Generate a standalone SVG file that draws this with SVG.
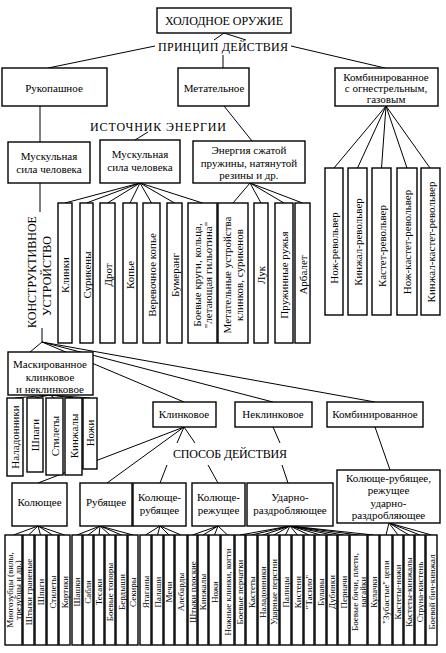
<svg xmlns="http://www.w3.org/2000/svg" width="446" height="653" viewBox="0 0 446 653">
<style>
text{font-family:"Liberation Serif","DejaVu Serif","Times New Roman",serif;fill:#000}
.l{font-size:11px;text-anchor:middle;dominant-baseline:central}
.s{font-size:9px}
.h{font-size:12px;text-anchor:middle;dominant-baseline:central}
.b{fill:#fff;stroke:#000;stroke-width:1.4}
#edges line{stroke:#000;stroke-width:1}
</style>
<rect width="446" height="653" fill="#fff"/>
<g id="edges">
<line x1="224" y1="33" x2="214" y2="40"/><line x1="224" y1="33" x2="246" y2="40"/>
<line x1="155" y1="46" x2="48" y2="68"/><line x1="291" y1="46" x2="385" y2="68"/><line x1="223" y1="55" x2="223" y2="68"/>
<line x1="40" y1="106" x2="40" y2="142"/><line x1="40" y1="183" x2="40" y2="212"/><line x1="42" y1="328" x2="42" y2="342"/>
<line x1="224" y1="106" x2="252" y2="141"/><line x1="148" y1="132" x2="135" y2="140"/>
<line x1="140" y1="183" x2="65" y2="203"/><line x1="140" y1="183" x2="86.5" y2="203"/><line x1="140" y1="183" x2="107.5" y2="203"/><line x1="140" y1="183" x2="130" y2="203"/><line x1="140" y1="183" x2="151.5" y2="203"/><line x1="140" y1="183" x2="174.5" y2="203"/><line x1="140" y1="183" x2="202.5" y2="203"/>
<line x1="250" y1="183" x2="233" y2="203"/><line x1="250" y1="183" x2="261" y2="203"/><line x1="250" y1="183" x2="284" y2="203"/><line x1="250" y1="183" x2="302.5" y2="203"/>
<line x1="386" y1="106" x2="334" y2="168"/><line x1="386" y1="106" x2="357.5" y2="168"/><line x1="386" y1="106" x2="381.5" y2="168"/><line x1="386" y1="106" x2="407" y2="168"/><line x1="386" y1="106" x2="430" y2="168"/>
<line x1="42" y1="342" x2="30" y2="352"/><line x1="42" y1="342" x2="184" y2="402"/><line x1="42" y1="342" x2="273" y2="402"/><line x1="42" y1="342" x2="375" y2="402"/>
<line x1="50" y1="395" x2="15" y2="398"/><line x1="50" y1="395" x2="35" y2="398"/><line x1="50" y1="395" x2="54.5" y2="398"/><line x1="50" y1="395" x2="73.5" y2="398"/><line x1="50" y1="395" x2="90" y2="398"/>
<line x1="184" y1="427" x2="38" y2="483"/><line x1="184" y1="427" x2="107" y2="483"/><line x1="184" y1="427" x2="177" y2="443"/><line x1="184" y1="427" x2="195" y2="443"/>
<line x1="167" y1="465" x2="160" y2="483"/><line x1="208" y1="465" x2="218" y2="483"/><line x1="282" y1="465" x2="288" y2="483"/>
<line x1="273" y1="427" x2="280" y2="443"/><line x1="375" y1="427" x2="390" y2="470"/>
<line x1="38" y1="526" x2="13.5" y2="535"/><line x1="38" y1="526" x2="28.5" y2="535"/><line x1="38" y1="526" x2="40.5" y2="535"/><line x1="38" y1="526" x2="52.5" y2="535"/><line x1="38" y1="526" x2="64.5" y2="535"/>
<line x1="100" y1="526" x2="77" y2="535"/><line x1="100" y1="526" x2="88" y2="535"/><line x1="100" y1="526" x2="99" y2="535"/><line x1="100" y1="526" x2="110" y2="535"/><line x1="100" y1="526" x2="121.5" y2="535"/><line x1="100" y1="526" x2="133" y2="535"/>
<line x1="160" y1="526" x2="145.5" y2="535"/><line x1="160" y1="526" x2="157.5" y2="535"/><line x1="160" y1="526" x2="169" y2="535"/><line x1="160" y1="526" x2="181" y2="535"/>
<line x1="218" y1="526" x2="192.5" y2="535"/><line x1="218" y1="526" x2="203" y2="535"/><line x1="218" y1="526" x2="214.5" y2="535"/><line x1="218" y1="526" x2="227.5" y2="535"/>
<line x1="290" y1="526" x2="240" y2="535"/><line x1="290" y1="526" x2="251.5" y2="535"/><line x1="290" y1="526" x2="263" y2="535"/><line x1="290" y1="526" x2="274" y2="535"/><line x1="290" y1="526" x2="285.5" y2="535"/><line x1="290" y1="526" x2="297.5" y2="535"/><line x1="290" y1="526" x2="309" y2="535"/><line x1="290" y1="526" x2="320.5" y2="535"/><line x1="290" y1="526" x2="332" y2="535"/><line x1="290" y1="526" x2="343.5" y2="535"/><line x1="290" y1="526" x2="358.5" y2="535"/><line x1="290" y1="526" x2="373.5" y2="535"/>
<line x1="389" y1="523" x2="386" y2="535"/><line x1="389" y1="523" x2="398" y2="535"/><line x1="389" y1="523" x2="409" y2="535"/><line x1="389" y1="523" x2="420" y2="535"/><line x1="389" y1="523" x2="431.5" y2="535"/>
</g>

<g id="root"><rect class="b" x="157" y="8" width="134" height="25"/><text class="h" x="224" y="21" textLength="118">ХОЛОДНОЕ ОРУЖИЕ</text></g>
<g id="label-principle"><text class="h" x="223" y="47" textLength="130">ПРИНЦИП ДЕЙСТВИЯ</text></g>
<g id="n-rukopashnoe"><rect class="b" x="2" y="68" width="105" height="38"/><text class="l" x="54" y="88">Рукопашное</text></g>
<g id="n-metatelnoe"><rect class="b" x="178" y="68" width="71" height="38"/><text class="l" x="214" y="88">Метательное</text></g>
<g id="n-komb1"><rect class="b" x="335" y="68" width="103" height="38"/><text class="l" x="386" y="76.5" font-size="10">Комбинированное</text><text class="l" x="386" y="87.7" font-size="10">с  огнестрельным,</text><text class="l" x="386" y="98.9" font-size="10">газовым</text></g>
<g id="label-energy"><text class="h" x="158" y="127" textLength="136">ИСТОЧНИК ЭНЕРГИИ</text></g>
<g id="n-musk1"><rect class="b" x="8" y="142" width="82" height="41"/><text class="l" x="49" y="156">Мускульная</text><text class="l" x="49" y="169">сила  человека</text></g>
<g id="n-musk2"><rect class="b" x="100" y="140" width="80" height="43"/><text class="l" x="140" y="154">Мускульная</text><text class="l" x="140" y="167">сила  человека</text></g>
<g id="n-energy"><rect class="b" x="193" y="141" width="112" height="42"/><text class="l" x="249" y="150">Энергия  сжатой</text><text class="l" x="249" y="162.5">пружины,  натянутой</text><text class="l" x="249" y="175">резины  и  др.</text></g>

<g id="label-konstr"><text class="h" transform="translate(32,272) rotate(-90)">КОНСТРУКТИВНОЕ</text><text class="h" transform="translate(47,276) rotate(-90)">УСТРОЙСТВО</text></g>

<g id="n-klinki"><rect class="b" x="58" y="203" width="14" height="140"/><text class="l" transform="translate(65,275) rotate(-90)">Клинки</text></g>
<g id="n-suriken"><rect class="b" x="80" y="203" width="13" height="140"/><text class="l" transform="translate(86.5,275) rotate(-90)">Сурикены</text></g>
<g id="n-drot"><rect class="b" x="100" y="203" width="15" height="140"/><text class="l" transform="translate(107.5,275) rotate(-90)">Дрот</text></g>
<g id="n-kopye"><rect class="b" x="123" y="203" width="14" height="140"/><text class="l" transform="translate(130,275) rotate(-90)">Копье</text></g>
<g id="n-verev"><rect class="b" x="143" y="203" width="17" height="140"/><text class="l" transform="translate(151.5,275) rotate(-90)">Веревочное  копье</text></g>
<g id="n-bumerang"><rect class="b" x="167" y="203" width="15" height="140"/><text class="l" transform="translate(174.5,275) rotate(-90)">Бумеранг</text></g>
<g id="n-krugi"><rect class="b" x="188" y="203" width="29" height="140"/><text class="l" transform="translate(197,275) rotate(-90)">Боевые  круги,  кольца,</text><text class="l" transform="translate(208,275) rotate(-90)">"летающая гильотина"</text></g>
<g id="n-metust"><rect class="b" x="218" y="203" width="30" height="140"/><text class="l" transform="translate(227,275) rotate(-90)">Метательные  устройства</text><text class="l" transform="translate(239,275) rotate(-90)">клинков,  сурикенов</text></g>
<g id="n-luk"><rect class="b" x="254" y="203" width="14" height="140"/><text class="l" transform="translate(261,275) rotate(-90)">Лук</text></g>
<g id="n-pruzh"><rect class="b" x="275" y="203" width="18" height="140"/><text class="l" transform="translate(284,275) rotate(-90)">Пружинные  ружья</text></g>
<g id="n-arbalet"><rect class="b" x="295" y="203" width="15" height="140"/><text class="l" transform="translate(302.5,275) rotate(-90)">Арбалет</text></g>

<g id="n-nozhrev"><rect class="b" x="325" y="168" width="18" height="147"/><text class="l" transform="translate(334,248) rotate(-90)">Нож-револьвер</text></g>
<g id="n-kinzhrev"><rect class="b" x="348" y="168" width="19" height="147"/><text class="l" transform="translate(357.5,242) rotate(-90)">Кинжал-револьвер</text></g>
<g id="n-kastrev"><rect class="b" x="372" y="168" width="19" height="147"/><text class="l" transform="translate(381.5,246) rotate(-90)">Кастет-револьвер</text></g>
<g id="n-nozhkastrev"><rect class="b" x="397" y="168" width="20" height="147"/><text class="l" transform="translate(407,242) rotate(-90)">Нож-кастет-револьвер</text></g>
<g id="n-kinzhkastrev"><rect class="b" x="421" y="168" width="19" height="147"/><text class="l" transform="translate(430.5,242) rotate(-90)">Кинжал-кастет-револьвер</text></g>

<g id="n-mask"><rect class="b" x="8" y="352" width="85" height="43"/><text class="l" x="50" y="364" font-size="11.5">Маскированное</text><text class="l" x="50" y="377">клинковое</text><text class="l" x="50" y="389">и  неклинковое</text></g>
<g id="n-m-nalad"><rect class="b" x="7" y="398" width="16" height="78"/><text class="l" transform="translate(15,437) rotate(-90)">Наладонники</text></g>
<g id="n-m-shpagi"><rect class="b" x="27" y="398" width="16" height="74"/><text class="l" transform="translate(35,435) rotate(-90)">Шпаги</text></g>
<g id="n-m-stilety"><rect class="b" x="46" y="398" width="17" height="77"/><text class="l" transform="translate(54.5,436) rotate(-90)">Стилеты</text></g>
<g id="n-m-kinzh"><rect class="b" x="65" y="398" width="17" height="77"/><text class="l" transform="translate(73.5,436) rotate(-90)">Кинжалы</text></g>
<g id="n-m-nozhi"><rect class="b" x="83" y="398" width="14" height="71"/><text class="l" transform="translate(90,433) rotate(-90)">Ножи</text></g>

<g id="n-klinkovoe"><rect class="b" x="153" y="402" width="63" height="25"/><text class="l" x="184" y="414">Клинковое</text></g>
<g id="n-neklinkovoe"><rect class="b" x="235" y="402" width="77" height="25"/><text class="l" x="273" y="414">Неклинковое</text></g>
<g id="n-komb2"><rect class="b" x="327" y="402" width="96" height="25"/><text class="l" x="375" y="414">Комбинированное</text></g>
<g id="label-sposob"><text class="h" x="230" y="454" textLength="114">СПОСОБ ДЕЙСТВИЯ</text></g>

<g id="n-kol"><rect class="b" x="12" y="483" width="55" height="43"/><text class="l" x="39.5" y="502">Колющее</text></g>
<g id="n-rub"><rect class="b" x="80" y="483" width="52" height="43"/><text class="l" x="106" y="502">Рубящее</text></g>
<g id="n-kolrub"><rect class="b" x="133" y="483" width="53" height="43"/><text class="l" x="159.5" y="497">Колюще-</text><text class="l" x="159.5" y="510">рубящее</text></g>
<g id="n-kolrez"><rect class="b" x="192" y="483" width="53" height="43"/><text class="l" x="218.5" y="497">Колюще-</text><text class="l" x="218.5" y="510">режущее</text></g>
<g id="n-udar"><rect class="b" x="247" y="483" width="86" height="43"/><text class="l" x="290" y="497">Ударно-</text><text class="l" x="290" y="509.5">раздробляющее</text></g>
<g id="n-komb3"><rect class="b" x="337" y="470" width="103" height="53"/><text class="l" x="388.5" y="478">Колюще-рубящее,</text><text class="l" x="388.5" y="490.3">режущее</text><text class="l" x="388.5" y="502.6">ударно-</text><text class="l" x="388.5" y="514.9">раздробляющее</text></g>

<g id="n-b01"><rect class="b" x="5" y="535" width="17" height="110"/><text class="l s" transform="translate(9.5,590) rotate(-90)">Многозубцы (вилы,</text><text class="l s" transform="translate(17.5,590) rotate(-90)">трезубцы и др.)</text></g>
<g id="n-b02"><rect class="b" x="23" y="535" width="11" height="110"/><text class="l s" transform="translate(28.5,592) rotate(-90)">Штыки граненые</text></g>
<g id="n-b03"><rect class="b" x="35" y="535" width="11" height="110"/><text class="l s" transform="translate(40.5,592) rotate(-90)">Шпаги</text></g>
<g id="n-b04"><rect class="b" x="47" y="535" width="11" height="110"/><text class="l s" transform="translate(52.5,592) rotate(-90)">Стилеты</text></g>
<g id="n-b05"><rect class="b" x="59" y="535" width="11" height="110"/><text class="l s" transform="translate(64.5,592) rotate(-90)">Кортики</text></g>
<g id="n-b06"><rect class="b" x="72" y="535" width="10" height="110"/><text class="l s" transform="translate(77,592) rotate(-90)">Шашки</text></g>
<g id="n-b07"><rect class="b" x="83" y="535" width="10" height="110"/><text class="l s" transform="translate(88,592) rotate(-90)">Сабли</text></g>
<g id="n-b08"><rect class="b" x="94" y="535" width="10" height="110"/><text class="l s" transform="translate(99,592) rotate(-90)">Тесаки</text></g>
<g id="n-b09"><rect class="b" x="105" y="535" width="10" height="110"/><text class="l s" transform="translate(110,592) rotate(-90)">Боевые топоры</text></g>
<g id="n-b10"><rect class="b" x="116" y="535" width="11" height="110"/><text class="l s" transform="translate(121.5,592) rotate(-90)">Бердыши</text></g>
<g id="n-b11"><rect class="b" x="128" y="535" width="10" height="110"/><text class="l s" transform="translate(133,592) rotate(-90)">Секиры</text></g>
<g id="n-b12"><rect class="b" x="140" y="535" width="11" height="110"/><text class="l s" transform="translate(145.5,592) rotate(-90)">Ятаганы</text></g>
<g id="n-b13"><rect class="b" x="152" y="535" width="11" height="110"/><text class="l s" transform="translate(157.5,592) rotate(-90)">Палаши</text></g>
<g id="n-b14"><rect class="b" x="164" y="535" width="10" height="110"/><text class="l s" transform="translate(169,592) rotate(-90)">Мечи</text></g>
<g id="n-b15"><rect class="b" x="175" y="535" width="12" height="110"/><text class="l s" transform="translate(181,592) rotate(-90)">Алебарды</text></g>
<g id="n-b16"><rect class="b" x="188" y="535" width="9" height="110"/><text class="l s" transform="translate(192.5,592) rotate(-90)">Штыки плоские</text></g>
<g id="n-b17"><rect class="b" x="198" y="535" width="10" height="110"/><text class="l s" transform="translate(203,592) rotate(-90)">Кинжалы</text></g>
<g id="n-b18"><rect class="b" x="209" y="535" width="11" height="110"/><text class="l s" transform="translate(214.5,592) rotate(-90)">Ножи</text></g>
<g id="n-b19"><rect class="b" x="221" y="535" width="13" height="110"/><text class="l s" transform="translate(227.5,592) rotate(-90)">Ножные клинки, когти</text></g>
<g id="n-b20"><rect class="b" x="235" y="535" width="10" height="110"/><text class="l s" transform="translate(240,592) rotate(-90)">Боевые перчатки</text></g>
<g id="n-b21"><rect class="b" x="246" y="535" width="11" height="110"/><text class="l s" transform="translate(251.5,592) rotate(-90)">Кастеты</text></g>
<g id="n-b22"><rect class="b" x="258" y="535" width="10" height="110"/><text class="l s" transform="translate(263,592) rotate(-90)">Наладонники</text></g>
<g id="n-b23"><rect class="b" x="269" y="535" width="10" height="110"/><text class="l s" transform="translate(274,592) rotate(-90)">Ударные перстни</text></g>
<g id="n-b24"><rect class="b" x="280" y="535" width="11" height="110"/><text class="l s" transform="translate(285.5,592) rotate(-90)">Палицы</text></g>
<g id="n-b25"><rect class="b" x="292" y="535" width="11" height="110"/><text class="l s" transform="translate(297.5,592) rotate(-90)">Кистени</text></g>
<g id="n-b26"><rect class="b" x="304" y="535" width="10" height="110"/><text class="l s" transform="translate(309,592) rotate(-90)">"Тасило"</text></g>
<g id="n-b27"><rect class="b" x="315" y="535" width="11" height="110"/><text class="l s" transform="translate(320.5,592) rotate(-90)">Булавы</text></g>
<g id="n-b28"><rect class="b" x="327" y="535" width="10" height="110"/><text class="l s" transform="translate(332,592) rotate(-90)">Дубинки</text></g>
<g id="n-b29"><rect class="b" x="338" y="535" width="11" height="110"/><text class="l s" transform="translate(343.5,592) rotate(-90)">Перначи</text></g>
<g id="n-b30"><rect class="b" x="350" y="535" width="17" height="110"/><text class="l s" transform="translate(354.5,592) rotate(-90)">Боевые бичи, плети,</text><text class="l s" transform="translate(362.5,592) rotate(-90)">нагайки</text></g>
<g id="n-b31"><rect class="b" x="368" y="535" width="11" height="110"/><text class="l s" transform="translate(373.5,592) rotate(-90)">Кулачки</text></g>
<g id="n-b32"><rect class="b" x="380" y="535" width="12" height="110"/><text class="l s" transform="translate(386,592) rotate(-90)">"Зубастые" цепи</text></g>
<g id="n-b33"><rect class="b" x="393" y="535" width="10" height="110"/><text class="l s" transform="translate(398,592) rotate(-90)">Кастеты-ножи</text></g>
<g id="n-b34"><rect class="b" x="404" y="535" width="10" height="110"/><text class="l s" transform="translate(409,592) rotate(-90)">Кастеты-кинжалы</text></g>
<g id="n-b35"><rect class="b" x="415" y="535" width="10" height="110"/><text class="l s" transform="translate(420,592) rotate(-90)">Струна-кистень</text></g>
<g id="n-b36"><rect class="b" x="426" y="535" width="11" height="110"/><text class="l s" transform="translate(431.5,592) rotate(-90)">Боевой бич-кинжал</text></g>
</svg>
